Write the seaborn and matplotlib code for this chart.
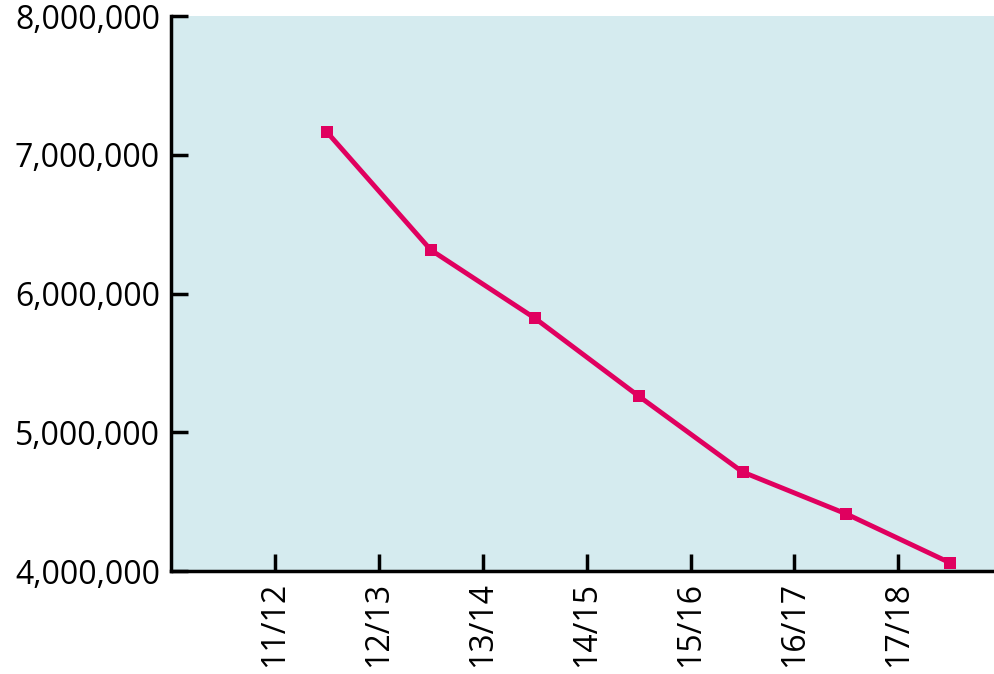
import numpy as np
import pandas as pd
import matplotlib
matplotlib.use('Agg')
import matplotlib.pyplot as plt
import seaborn as sns
from matplotlib.ticker import FuncFormatter

# season labels on the x axis and the plotted values
seasons = ['11/12', '12/13', '13/14', '14/15', '15/16', '16/17', '17/18']
values = [7164000, 6314000, 5823000, 5261000, 4714000, 4411000, 4058000]

df = pd.DataFrame({'pos': np.arange(len(seasons)) + 0.5, 'value': values})

sns.set_style('ticks')
plt.rcParams['font.family'] = ['Open Sans', 'DejaVu Sans']

fig = plt.figure(figsize=(9.95, 6.74), dpi=100)
ax = fig.add_axes([171 / 995, 1 - 571 / 674, (995 - 171) / 995, (571 - 16) / 674])
ax.set_facecolor('#d5ebef')

sns.lineplot(data=df, x='pos', y='value', ax=ax, color='#e0005f', linewidth=3.5,
             marker='s', markersize=8, markeredgewidth=0)

ax.set_xlim(-1, 6.93)
ax.set_ylim(4000000, 8000000)
ax.set_yticks([4000000, 5000000, 6000000, 7000000, 8000000])
ax.yaxis.set_major_formatter(FuncFormatter(lambda v, p: f'{int(v):,}'))
ax.set_xticks(np.arange(len(seasons)))
ax.set_xticklabels(seasons, rotation=90)
ax.set_xlabel('')
ax.set_ylabel('')

for s in ['top', 'right']:
    ax.spines[s].set_visible(False)
for s in ['left', 'bottom']:
    ax.spines[s].set_linewidth(2.5)
    ax.spines[s].set_color('black')
ax.tick_params(direction='in', length=12, width=2.5, labelsize=23, pad=8, colors='black')

fig.savefig('out.png', dpi=100)
